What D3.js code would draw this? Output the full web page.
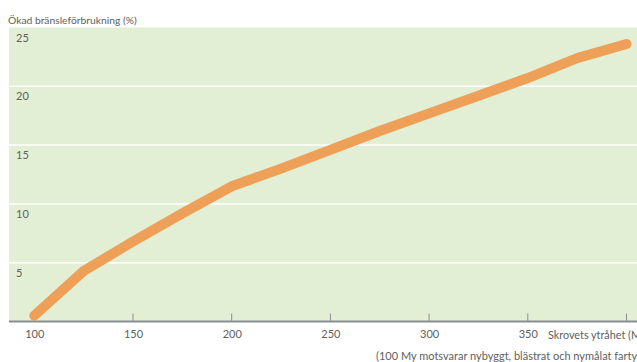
<!DOCTYPE html>
<html><head><meta charset="utf-8">
<script src="https://cdn.jsdelivr.net/npm/d3@7"></script>
<style>body{margin:0;background:#fff;overflow:hidden}svg{display:block}text{font-family:Lato,"Open Sans",sans-serif;fill:#606060}</style>
</head><body><svg id="c" width="637" height="362"></svg>
<script>
const roughness = [100,125,150,175,200,225,250,275,300,325,350,375,400];
const fuelIncrease = [0.5,4.3,6.8,9.2,11.5,13.0,14.6,16.2,17.7,19.2,20.7,22.4,23.6];
const xTicks = [100,150,200,250,300,350,400];
const xTickLabels = ["100","150","200","250","300","350",""];
const yTicks = [5,10,15,20,25];
const yTitle = "Ökad bränsleförbrukning (%)";
const xTitle = "Skrovets ytråhet (Mµm)";
const note = "(100 My motsvarar nybyggt, blästrat och nymålat fartyg)";

const svg = d3.select("#c");
const x = d3.scaleLinear().domain([100,400]).range([34.3,626.5]);
const y = d3.scaleLinear().domain([0,25]).range([321.5,27.5]);

svg.append("rect").attr("x",9).attr("y",y(25)).attr("width",640).attr("height",y(0)-y(25)).attr("fill","#e2efd4");

svg.append("g").selectAll("line").data(yTicks.filter(d=>d<25)).join("line")
  .attr("x1",9).attr("x2",637).attr("y1",d=>y(d)).attr("y2",d=>y(d))
  .attr("stroke","#fff").attr("stroke-width",1.5);

svg.append("g").selectAll("text").data(yTicks).join("text")
  .attr("x",16).attr("y",d=>y(d)+14).attr("font-size",11).text(d=>d);

const xa = svg.append("g").attr("transform",`translate(0,${y(0)})`)
  .call(d3.axisBottom(x).tickValues(xTicks).tickSize(0).tickPadding(9).tickFormat((d,i)=>xTickLabels[i]));
xa.select(".domain").remove();
xa.selectAll("text").attr("font-size",11).style("fill","#606060").style("font-family","Lato,'Open Sans',sans-serif");
svg.append("line").attr("x1",9).attr("x2",637).attr("y1",y(0)).attr("y2",y(0)).attr("stroke","#8a8e91").attr("stroke-width",2);
svg.append("g").selectAll("line").data(xTicks).join("line")
  .attr("x1",d=>x(d)).attr("x2",d=>x(d)).attr("y1",y(0)-8).attr("y2",y(0))
  .attr("stroke","#8a8e91").attr("stroke-width",1);

svg.append("path").datum(roughness.map((r,i)=>[r,fuelIncrease[i]]))
  .attr("d",d3.line().x(d=>x(d[0])).y(d=>y(d[1])))
  .attr("fill","none").attr("stroke","#ee9f58").attr("stroke-width",10)
  .attr("stroke-linecap","round").attr("stroke-linejoin","round");

svg.append("text").attr("x",8).attr("y",24).attr("font-size",10.3).text(yTitle);
svg.append("text").attr("x",548).attr("y",339).attr("font-size",10.8).text(xTitle);
svg.append("text").attr("x",376).attr("y",360).attr("font-size",11).text(note);
</script></body></html>
